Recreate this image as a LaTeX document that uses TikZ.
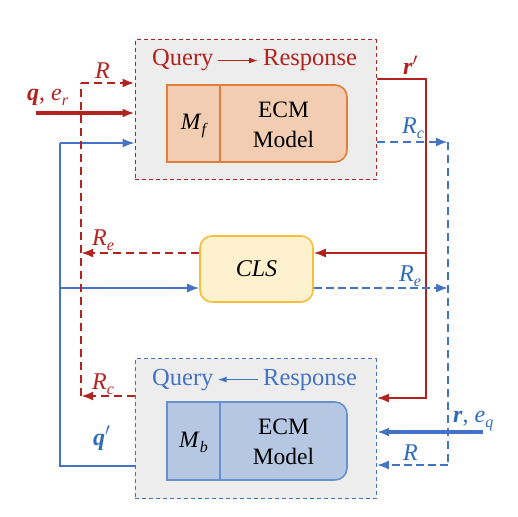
\documentclass[tikz,border=0pt]{standalone}
\usepackage{fontspec}
\setmainfont{Liberation Serif}
\usetikzlibrary{arrows.meta}
\definecolor{cred}{RGB}{178,34,30}
\definecolor{cblue}{RGB}{68,114,196}
\definecolor{ctblue}{RGB}{46,108,185}
\definecolor{cgray}{RGB}{237,237,237}
\definecolor{corfill}{RGB}{242,205,177}
\definecolor{corline}{RGB}{226,126,60}
\definecolor{cbfill}{RGB}{182,199,228}
\definecolor{cbline}{RGB}{104,146,206}
\definecolor{cyfill}{RGB}{254,242,206}
\definecolor{cyline}{RGB}{247,190,60}
\newcommand{\sbs}[1]{\raisebox{-5pt}{\fontsize{16}{16}\selectfont\itshape #1}}
\newcommand{\bq}[1]{\textbf{\textit{#1}}}
\begin{document}
\begin{tikzpicture}[x=1pt,y=-1pt,
  >={Latex[length=12pt,width=9pt]},
  outerbox/.style={draw, dash pattern=on 4pt off 3pt, line width=1.4pt, fill=cgray, inner sep=0pt, minimum width=241pt, minimum height=140pt},
  clsbox/.style={draw=cyline, fill=cyfill, line width=1.6pt, rounded corners=12pt, inner sep=0pt, minimum width=113pt, minimum height=66pt},
  reddash/.style={cred, line width=2.8pt, dash pattern=on 8pt off 5pt},
  redthick/.style={cred, line width=3.3pt},
  redthin/.style={cred, line width=1.6pt},
  bluethin/.style={cblue, line width=1.5pt},
  bluedash/.style={cblue, line width=2.7pt, dash pattern=on 8pt off 5pt},
  bluedashthin/.style={cblue, line width=1.9pt, dash pattern=on 8pt off 4pt},
  bluethick/.style={cblue, line width=3.3pt},
  lbl/.style={anchor=base west, inner sep=0pt, font=\fontsize{24}{24}\selectfont},
  big/.style={inner sep=0pt, font=\fontsize{23.5}{30}\selectfont},
  ttl/.style={inner sep=0pt, anchor=base west, font=\fontsize{24.5}{30}\selectfont},
  smallarrow/.style={line width=1.3pt, -{Latex[length=9pt,width=6pt]}},
  innerline/.style={line width=1.6pt}
]
\useasboundingbox (0,0) rectangle (518,516);

% outer boxes
\node[outerbox, draw=cred] (F) at (255.75,109.75) {};
\node[outerbox, draw=cblue] (B) at (255.75,428.75) {};

% inner box (forward)
\draw[corline, fill=corfill, innerline] (200,85) [rounded corners=12pt] -- (347,85) -- (347,162) -- (200,162) [sharp corners] -- (167,162) -- (167,85) -- cycle;
\draw[corline, innerline] (220,85) -- (220,162);
\node[big] (mF) at (193.5,126) {\textit{M}\sbs{f}};
\node[big, align=center] (eF) at (283.5,125) {ECM\\Model};

% inner box (backward)
\draw[cbline, fill=cbfill, innerline] (200,402) [rounded corners=12pt] -- (347,402) -- (347,480) -- (200,480) [sharp corners] -- (167,480) -- (167,402) -- cycle;
\draw[cbline, innerline] (220,402) -- (220,480);
\node[big] (mB) at (193.5,442) {\textit{M}\sbs{b}};
\node[big, align=center] (eB) at (283.5,442) {ECM\\Model};

% titles
\node[ttl, text=cred] (qF) at (152,66) {Query};
\node[ttl, text=cred] (rF) at (263,66) {Response};
\draw[cred, smallarrow] ([xshift=4pt]qF.east) -- ([xshift=-5pt]qF.east -| rF.west);
\node[ttl, text=cblue] (qB) at (152,385) {Query};
\node[ttl, text=cblue] (rB) at (263,385) {Response};
\draw[cblue, smallarrow] ([xshift=-5pt]qB.east -| rB.west) -- ([xshift=4pt]qB.east);

% CLS
\node[clsbox] (C) at (256.5,269) {};
\node[big, font=\fontsize{24}{24}\selectfont\itshape] (ct) at (C) {CLS};

% coordinates
\coordinate (rtop) at (81,83);
\coordinate (rbot) at (81,396);
\coordinate (rre) at (81,253);
\coordinate (qin) at (36,113);
\coordinate (bl1) at (60,143);
\coordinate (bl2) at (60,466);
\coordinate (bl3) at (60,288);
\coordinate (rp1) at (426,79);
\coordinate (rp2) at (426,398);
\coordinate (rp3) at (426,253);
\coordinate (bd1) at (448,142);
\coordinate (bd2) at (448,465);
\coordinate (bd3) at (448,288);
\coordinate (rin) at (483,432);

% blue q' loop
\draw[bluethin] (bl2 -| B.west) -- (bl2) -- (bl1);
\draw[bluethin, ->] (bl1) -- (bl1 -| F.west);
\draw[bluethin, ->] (bl3) -- (bl3 -| C.west);

% red feedback
\draw[reddash] (rbot) -- (rtop);
\draw[reddash, ->] (rtop) -- (rtop -| F.west);
\draw[reddash, ->] (rre -| C.west) -- (rre);
\draw[reddash, ->] (rbot -| B.west) -- (rbot);
\draw[redthick, ->] (qin) -- (qin -| F.west);

% red r'
\draw[redthin, ->] (rp1 -| F.east) -- (rp1) -- (rp2) -- (rp2 -| B.east);
\draw[redthin, ->] (rp3) -- (rp3 -| C.east);

% blue feedback
\draw[bluedash, ->] (bd1 -| F.east) -- (bd1);
\draw[bluedash] (bd1) -- (bd2);
\draw[bluedashthin, ->] (bd3 -| C.east) -- (bd3);
\draw[bluedashthin, ->] (bd2) -- (bd2 -| B.east);
\draw[bluethick, ->] (rin) -- (rin -| B.east);

% labels
\node[lbl, text=cred] (lR1) at (95,79) {\textit{R}};
\node[lbl, text=cred] (lq) at (27,100) {\bq{q}, \textit{e}\sbs{r}};
\node[lbl, text=cred] (lRe) at (92,245) {\textit{R}\sbs{e}};
\node[lbl, text=cred] (lRc) at (92,389) {\textit{R}\sbs{c}};
\node[lbl, text=ctblue] (lqp) at (93,445) {\bq{q}$'$};
\node[lbl, text=cred] (lrp) at (403,75) {\bq{r}$'$};
\node[lbl, text=ctblue] (lRcb) at (402,133) {\textit{R}\sbs{c}};
\node[lbl, text=ctblue] (lReb) at (399,281) {\textit{R}\sbs{e}};
\node[lbl, text=ctblue] (lr) at (453,422) {\bq{r}, \textit{e}\sbs{q}};
\node[lbl, text=ctblue] (lR2) at (403,460) {\textit{R}};
\end{tikzpicture}
\end{document}
